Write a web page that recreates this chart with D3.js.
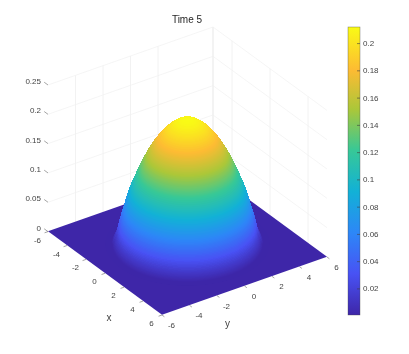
<!DOCTYPE html>
<html>
<head>
<meta charset="utf-8">
<script src="https://cdnjs.cloudflare.com/ajax/libs/d3/7.8.5/d3.min.js"></script>
<style>
  html, body { margin: 0; padding: 0; background: #fff; }
  svg { display: block; filter: blur(0.3px); }
  text { font-family: "Liberation Sans", Arial, sans-serif; fill: #444; }
</style>
</head>
<body>
<div id="chart"></div>
<script>
// Values
var profileRadius = [0, 0.25, 0.5, 0.75, 1, 1.25, 1.5, 1.75, 2, 2.25, 2.5, 2.75, 3, 3.25, 3.5, 3.75, 4, 4.25, 4.5, 4.75, 5];
var profileHeight = [0.2118, 0.2113, 0.2098, 0.2068, 0.2018, 0.196, 0.1888, 0.181, 0.1717, 0.161, 0.1492, 0.1355, 0.1205, 0.105, 0.0885, 0.066, 0.043, 0.016, 0.0012, 0.0005, 0.0005];
var zMin = 0.0005, zMax = 0.2118;

var xTicks = [-6, -4, -2, 0, 2, 4, 6];
var yTicks = [-6, -4, -2, 0, 2, 4, 6];
var zTicks = [0, 0.05, 0.1, 0.15, 0.2, 0.25];
var wallLinesY = [-4, -2, 0, 2];   // vertical grid lines seen on the x = -6 wall
var wallLinesX = [-4, 0, 4];       // vertical grid lines seen on the y = 6 wall
var barTicks = [0.02, 0.04, 0.06, 0.08, 0.1, 0.12, 0.14, 0.16, 0.18, 0.2];

var parulaStops = [0, 1/7, 2/7, 3/7, 4/7, 5/7, 0.85, 1];
var parulaColors = ['#3e26a8', '#4852f4', '#2d87f7', '#12b1d6', '#37c897', '#abc739', '#fdbb33', '#f9fb15'];

var width = 409, height = 354;

var svg = d3.select("#chart")
  .append("svg")
    .attr("width", width)
    .attr("height", height);

// Projection, each data axis adds its own screen offset
var xToPx = d3.scaleLinear().domain([-6, 6]).range([48, 162]);
var xToPy = d3.scaleLinear().domain([-6, 6]).range([231.6, 315]);
var yToPx = d3.scaleLinear().domain([-6, 6]).range([0, 165]);
var yToPy = d3.scaleLinear().domain([-6, 6]).range([0, -58]);
var zToPy = d3.scaleLinear().domain([0, 0.25]).range([0, -146.6]);

function project(x, y, z) {
  return [xToPx(x) + yToPx(y), xToPy(x) + yToPy(y) + zToPy(z)];
}

var heightAt = d3.scaleLinear().domain(profileRadius).range(profileHeight).clamp(true);

var toUnit = d3.scaleLinear().domain([zMin, zMax]).clamp(true);
var parula = d3.scaleLinear().domain(parulaStops).range(parulaColors).interpolate(d3.interpolateRgb);
function colorOf(z) { return parula(toUnit(z)); }

var line = d3.line();

// Title
svg.append("text")
  .attr("x", 187).attr("y", 22.5)
  .attr("text-anchor", "middle")
  .style("font-size", "10px")
  .style("fill", "#262626")
  .text("Time 5");

// Wall grid
var grid = svg.append("g")
  .attr("fill", "none")
  .attr("stroke", "#f0f0f0");

zTicks.slice(1).forEach(function(z) {
  grid.append("path").attr("stroke-width", 0.7)
    .attr("d", line([project(-6, -6, z), project(-6, 6, z), project(6, 6, z)]));
});
wallLinesY.forEach(function(y) {
  grid.append("path").attr("stroke-width", 0.9)
    .attr("d", line([project(-6, y, 0), project(-6, y, 0.25)]));
});
wallLinesX.forEach(function(x) {
  grid.append("path").attr("stroke-width", 0.9)
    .attr("d", line([project(x, 6, 0), project(x, 6, 0.25)]));
});
// back corner shows heavier
grid.append("path").attr("stroke-width", 1.6)
  .attr("d", line([project(-6, 6, 0), project(-6, 6, 0.25)]));

// Floor of the surface
svg.append("path")
  .attr("d", line([project(-6, -6, zMin), project(6, -6, zMin), project(6, 6, zMin), project(-6, 6, zMin)]) + "Z")
  .attr("fill", colorOf(zMin));

// Dome as half rings: back half from the rim inwards, then front half from the top outwards
var ringStep = 0.02, segments = 90;
var ringStarts = d3.range(0, 4.9, ringStep);
var viewAngle = Math.atan2(yToPy(1) - yToPy(0), xToPy(1) - xToPy(0));

function halfRing(r, from) {
  var outer = [], inner = [];
  d3.range(segments + 1).forEach(function(i) {
    var a = from + i / segments * Math.PI;
    outer.push(project((r + ringStep) * Math.cos(a), (r + ringStep) * Math.sin(a), heightAt(r + ringStep)));
    inner.push(project(r * Math.cos(a), r * Math.sin(a), heightAt(r)));
  });
  return { r: r, pts: outer.concat(inner.reverse()), color: colorOf(heightAt(r + ringStep / 2)) };
}

var backRings = ringStarts.slice().reverse().map(function(r) { return halfRing(r, viewAngle + Math.PI / 2); });
var frontRings = ringStarts.map(function(r) { return halfRing(r, viewAngle - Math.PI / 2); });

svg.append("g")
  .attr("shape-rendering", "crispEdges")
  .style("filter", "blur(0.45px)")
  .selectAll("path")
  .data(backRings.concat(frontRings))
  .enter().append("path")
    .attr("d", function(d) { return line(d.pts) + "Z"; })
    .attr("fill", function(d) { return d.color; })
    .attr("stroke", function(d) { return d.color; })
    .attr("stroke-width", 0.6);

// Tick marks and labels of the three axes
var ticks = svg.append("g").attr("stroke", "#666").attr("stroke-width", 0.6).attr("fill", "none");
var labels = svg.append("g").attr("text-anchor", "middle").style("font-size", "8px");

zTicks.forEach(function(z) {
  ticks.append("path").attr("d", line([project(-6, -6, z), project(-6.4, -6, z)]));
  labels.append("text")
    .attr("x", project(-6, -6, z)[0] - 7)
    .attr("y", project(-6, -6, z)[1] - 1)
    .attr("text-anchor", "end")
    .text(z);
});
xTicks.forEach(function(x) {
  var p = project(x, -6, 0);
  ticks.append("path").attr("d", line([p, project(x, -6.25, 0)]));
  labels.append("text").attr("x", p[0] - 10.5).attr("y", p[1] + 11).text(x);
});
yTicks.forEach(function(y) {
  var p = project(6, y, 0);
  ticks.append("path").attr("d", line([p, project(6.25, y, 0)]));
  labels.append("text").attr("x", p[0] + 9.5).attr("y", p[1] + 13).text(y);
});

svg.append("text").attr("x", 109).attr("y", 321).attr("text-anchor", "middle").style("font-size", "10px").text("x");
svg.append("text").attr("x", 227.5).attr("y", 327).attr("text-anchor", "middle").style("font-size", "10px").text("y");

// Colorbar
var barScale = d3.scaleLinear().domain([zMin, zMax]).range([315, 27]);
var barLeft = 348, barWidth = 12;

var grad = svg.append("defs").append("linearGradient")
  .attr("id", "parulaBar")
  .attr("x1", 0).attr("y1", 1).attr("x2", 0).attr("y2", 0);
grad.selectAll("stop")
  .data(parulaStops)
  .enter().append("stop")
    .attr("offset", function(d) { return d; })
    .attr("stop-color", function(d, i) { return parulaColors[i]; });

svg.append("rect")
  .attr("x", barLeft).attr("y", barScale(zMax))
  .attr("width", barWidth).attr("height", barScale(zMin) - barScale(zMax))
  .attr("fill", "url(#parulaBar)")
  .attr("stroke", "#444")
  .attr("stroke-opacity", 0.7)
  .attr("stroke-width", 0.5);

var barAxis = d3.axisRight(barScale)
  .tickValues(barTicks)
  .tickFormat(function(d) { return d; })
  .tickSizeInner(-3)
  .tickSizeOuter(0)
  .tickPadding(3);

var barG = svg.append("g")
  .attr("transform", "translate(" + (barLeft + barWidth) + ",0)")
  .call(barAxis);
barG.selectAll("text").style("font-size", "8px");
barG.selectAll("line").attr("stroke", "#404040").attr("stroke-width", 0.6);
barG.select(".domain").attr("stroke", "none");
</script>
</body>
</html>
